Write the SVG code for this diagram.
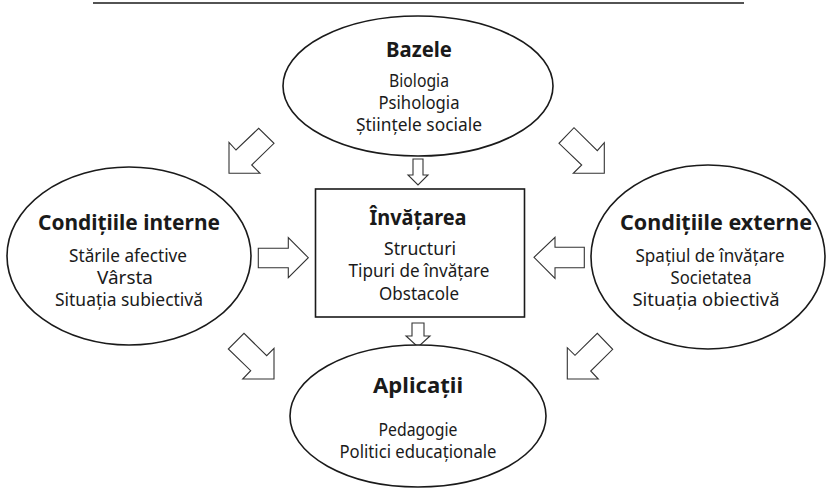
<svg xmlns="http://www.w3.org/2000/svg" width="828" height="489" viewBox="0 0 828 489">
<style>
.shape{fill:#fff;stroke:#1a1a1a;stroke-width:1.6}
.arr{fill:#fff;stroke:#333;stroke-width:1.1;stroke-linejoin:miter}
text{font-family:"Noto Sans","Open Sans",sans-serif;fill:#1a1a1a;text-anchor:middle}
.t{font-weight:bold;font-size:22px}
.s{font-size:18px}
</style>
<rect width="828" height="489" fill="#fff"/>
<line x1="93" y1="3" x2="744" y2="3" stroke="#1a1a1a" stroke-width="1.5"/>
<g id="connectors">
<polygon class="arr" points="229,173.3 229,142.3 236,150 258.7,128.3 274,143.3 251.7,165 260,173.3"/>
<polygon class="arr" points="604.3,173.3 573.3,173.3 581.7,165 559,143.3 574,127.7 597.3,150.7 604.3,142.7"/>
<polygon class="arr" points="413,159 423,159 423,175 428,175 418,185 408,175 413,175"/>
<polygon class="arr" points="258.3,248.3 288.3,248.3 288.3,237.7 308.3,257.7 288.3,277.7 288.3,267.7 258.3,267.7"/>
<polygon class="arr" points="584.3,247.3 555,247.3 555,237.3 534,257.3 555,278.3 555,267.7 584.3,267.7"/>
<polygon class="arr" points="412,323 424,323 424,336 430,336 418,347 406,336 412,336"/>
<polygon class="arr" points="274,379 242.7,379 250.7,370.7 228.3,349 244,333.3 266.7,355.7 274,348.3"/>
<polygon class="arr" points="567.3,379 567.3,347.7 575,355.3 597.3,333.3 612.7,349.3 590.7,371 598.3,379"/>
</g>
<g id="bazele">
<ellipse class="shape" cx="418" cy="86" rx="135" ry="70"/>
<text class="t" x="419" y="57" textLength="66" lengthAdjust="spacingAndGlyphs">Bazele</text>
<text class="s" x="419" y="87" textLength="60" lengthAdjust="spacingAndGlyphs">Biologia</text>
<text class="s" x="419" y="109" textLength="81" lengthAdjust="spacingAndGlyphs">Psihologia</text>
<text class="s" x="419" y="131" textLength="126" lengthAdjust="spacingAndGlyphs">Științele sociale</text>
</g>
<g id="interne">
<ellipse class="shape" cx="129" cy="256" rx="122" ry="89"/>
<text class="t" x="129" y="230" textLength="182" lengthAdjust="spacingAndGlyphs">Condițiile interne</text>
<text class="s" x="128" y="262" textLength="118" lengthAdjust="spacingAndGlyphs">Stările afective</text>
<text class="s" x="125" y="284" textLength="56" lengthAdjust="spacingAndGlyphs">Vârsta</text>
<text class="s" x="129" y="306" textLength="148" lengthAdjust="spacingAndGlyphs">Situația subiectivă</text>
</g>
<g id="invatarea">
<rect class="shape" x="315.5" y="189" width="209" height="128"/>
<text class="t" x="418" y="225" textLength="97" lengthAdjust="spacingAndGlyphs">Învățarea</text>
<text class="s" x="420" y="255" textLength="72" lengthAdjust="spacingAndGlyphs">Structuri</text>
<text class="s" x="419" y="277" textLength="141" lengthAdjust="spacingAndGlyphs">Tipuri de învățare</text>
<text class="s" x="419" y="300" textLength="80" lengthAdjust="spacingAndGlyphs">Obstacole</text>
</g>
<g id="externe">
<ellipse class="shape" cx="708" cy="257" rx="117" ry="92"/>
<text class="t" x="716" y="230" textLength="192" lengthAdjust="spacingAndGlyphs">Condițiile externe</text>
<text class="s" x="710" y="262" textLength="149" lengthAdjust="spacingAndGlyphs">Spațiul de învățare</text>
<text class="s" x="711" y="284" textLength="81" lengthAdjust="spacingAndGlyphs">Societatea</text>
<text class="s" x="706" y="306" textLength="147" lengthAdjust="spacingAndGlyphs">Situația obiectivă</text>
</g>
<g id="aplicatii">
<ellipse class="shape" cx="418" cy="416" rx="128" ry="71"/>
<text class="t" x="418" y="393" textLength="90" lengthAdjust="spacingAndGlyphs">Aplicații</text>
<text class="s" x="418" y="436" textLength="79" lengthAdjust="spacingAndGlyphs">Pedagogie</text>
<text class="s" x="418" y="458" textLength="157" lengthAdjust="spacingAndGlyphs">Politici educaționale</text>
</g>
</svg>
